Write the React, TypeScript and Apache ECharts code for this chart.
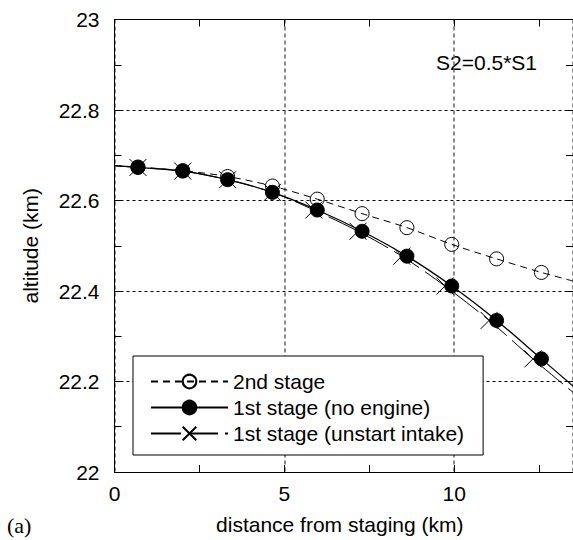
import React, { useEffect, useRef } from "react";
import * as echarts from "echarts";

// ---- data ----
const stage2X = [0, 0.69, 2.01, 3.33, 4.65, 5.97, 7.29, 8.61, 9.93, 11.25, 12.57, 13.5];
const stage2Y = [22.677, 22.674, 22.666, 22.653, 22.632, 22.603, 22.571, 22.54, 22.503, 22.471, 22.441, 22.422];

const noEngineX = [0, 0.69, 2.01, 3.33, 4.65, 5.97, 7.29, 8.61, 9.93, 11.25, 12.57, 13.5];
const noEngineY = [22.677, 22.673, 22.665, 22.646, 22.618, 22.579, 22.532, 22.477, 22.411, 22.335, 22.25, 22.19];

const unstartX = [0, 0.69, 2.01, 3.33, 4.65, 5.87, 7.17, 8.46, 9.73, 11.03, 12.32, 13.5];
const unstartY = [22.677, 22.673, 22.665, 22.646, 22.618, 22.579, 22.532, 22.477, 22.411, 22.335, 22.25, 22.176];

const seriesNames = ["2nd stage", "1st stage (no engine)", "1st stage (unstart intake)"];
const annotation = "S2=0.5*S1";
const panelLabel = "(a)";
const xTitle = "distance from staging (km)";
const yTitle = "altitude (km)";

const FONT = "'Liberation Sans', Arial, sans-serif";

function buildData(xs: number[], ys: number[]) {
  return xs.map((x, i) => {
    const item: any = { value: [x, ys[i]] };
    if (i === 0 || i === xs.length - 1) item.symbol = "none";
    return item;
  });
}

export default function App() {
  const ref = useRef<HTMLDivElement>(null);

  useEffect(() => {
    if (!ref.current) return;
    const chart = echarts.init(ref.current, null, { renderer: "svg" });

    const tickAxisCommon = {
      type: "value" as const,
      min: 0,
      max: 13.5,
      interval: 2.5,
      axisLabel: { show: false },
      splitLine: { show: false },
      axisTick: { show: true, inside: true, length: 7, lineStyle: { color: "#000", width: 1 } },
    };

    const option: any = {
      animation: false,
      backgroundColor: "#fff",
      grid: { left: 114.5, right: 0, top: 19.5, bottom: 59.5, containLabel: false },
      xAxis: [
        {
          type: "value",
          position: "bottom",
          min: 0,
          max: 13.5,
          interval: 5,
          name: xTitle,
          nameLocation: "middle",
          nameGap: 42,
          nameTextStyle: { fontFamily: FONT, fontSize: 21, color: "#000", padding: [0, 8, 0, 0] },
          axisLine: { show: true, onZero: false, lineStyle: { color: "#000", width: 1 } },
          axisTick: { show: false },
          axisLabel: { fontFamily: FONT, fontSize: 21, color: "#000", margin: 11, showMaxLabel: false },
          splitLine: { show: true, lineStyle: { color: "#666", width: 1.5, type: [4, 3] } },
        },
        {
          ...tickAxisCommon,
          position: "bottom",
          axisLine: { show: false, onZero: false },
        },
        {
          ...tickAxisCommon,
          position: "top",
          axisLine: { show: true, onZero: false, lineStyle: { color: "#000", width: 1 } },
        },
      ],
      yAxis: [
        {
          type: "value",
          position: "left",
          min: 22,
          max: 23,
          interval: 0.2,
          name: yTitle,
          nameLocation: "middle",
          nameGap: 74,
          nameTextStyle: { fontFamily: FONT, fontSize: 21, color: "#000" },
          axisLine: { show: true, onZero: false, lineStyle: { color: "#000", width: 1 } },
          axisTick: { show: true, inside: true, length: 7, lineStyle: { color: "#000" } },
          minorTick: { show: true, splitNumber: 2, length: 7, lineStyle: { color: "#000" } },
          axisLabel: {
            fontFamily: FONT,
            fontSize: 21,
            color: "#000",
            margin: 15,
            formatter: (v: number) => String(parseFloat(v.toFixed(1))),
          },
          splitLine: { show: true, lineStyle: { color: "#000", width: 1, type: [3, 3] } },
        },
        {
          type: "value",
          position: "right",
          min: 22,
          max: 23,
          interval: 0.2,
          axisLine: { show: true, onZero: false, lineStyle: { color: "#000", width: 1 } },
          axisTick: { show: true, inside: true, length: 7, lineStyle: { color: "#000" } },
          minorTick: { show: true, splitNumber: 2, length: 7, lineStyle: { color: "#000" } },
          axisLabel: { show: false },
          splitLine: { show: false },
        },
      ],
      legend: {
        orient: "vertical",
        left: 133,
        top: 356,
        padding: [15, 19, 11, 17],
        itemWidth: 77,
        itemHeight: 17,
        itemGap: 5,
        backgroundColor: "#fff",
        borderColor: "#000",
        borderWidth: 1,
        borderRadius: 0,
        data: [seriesNames[0], seriesNames[1], seriesNames[2]],
        textStyle: { fontFamily: FONT, fontSize: 21, color: "#000", lineHeight: 21 },
        selectedMode: false,
        z: 10,
      },
      graphic: [
        {
          type: "text",
          left: 436,
          top: 52,
          style: { text: annotation, font: `21px ${FONT}`, fill: "#000" },
        },
        {
          type: "text",
          left: 7,
          top: 514,
          style: { text: panelLabel, font: "22px 'Liberation Serif', 'Times New Roman', serif", fill: "#000" },
        },
      ],
      series: [
        {
          name: seriesNames[0],
          type: "line",
          xAxisIndex: 0,
          yAxisIndex: 0,
          smooth: 0.3,
          data: buildData(stage2X, stage2Y),
          symbol: "circle",
          symbolSize: 14,
          itemStyle: { color: "rgba(255,255,255,0)", borderColor: "#000", borderWidth: 1 },
          lineStyle: { color: "#000", width: 1, type: [7, 5] },
          z: 2,
        },
        {
          name: seriesNames[2],
          type: "line",
          xAxisIndex: 0,
          yAxisIndex: 0,
          smooth: 0.3,
          data: buildData(unstartX, unstartY),
          symbol: "path://M0,0L10,10M10,0L0,10",
          symbolSize: 17,
          itemStyle: { color: "#000", borderColor: "#000", borderWidth: 1 },
          lineStyle: { color: "#000", width: 1, type: [30, 7] },
          z: 3,
        },
        {
          name: seriesNames[1],
          type: "line",
          xAxisIndex: 0,
          yAxisIndex: 0,
          smooth: 0.3,
          data: buildData(noEngineX, noEngineY),
          symbol: "circle",
          symbolSize: 14,
          itemStyle: { color: "#000", borderColor: "#000", borderWidth: 1 },
          lineStyle: { color: "#000", width: 1.3, type: "solid" },
          z: 4,
        },
      ],
    };

    chart.setOption(option);
    return () => chart.dispose();
  }, []);

  return (
    <div
      ref={ref}
      style={{ position: "fixed", left: 0, top: 0, width: 573, height: 540, background: "#fff" }}
    />
  );
}
